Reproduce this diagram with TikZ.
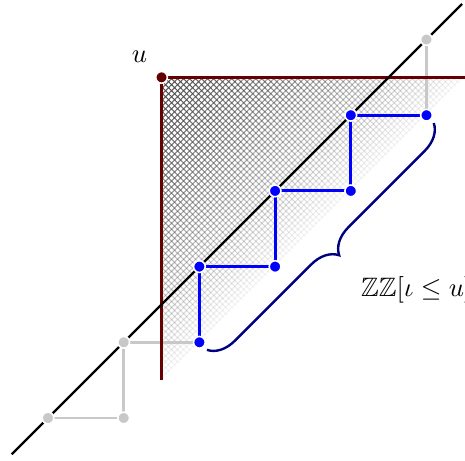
\documentclass[tikz,border=0pt]{standalone}
\usepackage{amssymb}
\usetikzlibrary{patterns.meta,fadings,decorations.pathreplacing}
\definecolor{ured}{RGB}{100,0,0}
\definecolor{bracecol}{RGB}{0,0,128}
\definecolor{lgray}{RGB}{200,200,200}
\definecolor{pblue}{RGB}{0,0,255}
\tikzfading[name=fadediag, top color=transparent!0, bottom color=transparent!95]
\begin{document}
\begin{tikzpicture}[
  dotnode/.style={circle, fill=#1, draw=white, line width=0.6pt, inner sep=0pt, minimum size=4.4pt},
  grayline/.style={lgray, line width=1pt},
  blueline/.style={pblue, line width=1.1pt},
  redline/.style={ured, line width=0.9pt},
  diagline/.style={black, line width=0.9pt},
  hatchfill/.style={pattern={Lines[angle=#1,distance=1.6pt,line width=0.4pt]}, pattern color=black!70,
     path fading=fadediag, fit fading=false,
     fading transform={shift={(2.5,3.5)}, rotate=45, xscale=1.9, yscale=1.6}},
  bracestyle/.style={bracecol, line width=0.9pt, decorate, decoration={brace, mirror, amplitude=10pt}}
]
\useasboundingbox (-0.634,-0.568) rectangle (5.509,5.522);
\clip (-0.634,-0.568) rectangle (5.509,5.522);
% coordinates
\coordinate (g00) at (0,0);
\coordinate (g10) at (1,0);
\coordinate (g11) at (1,1);
\coordinate (g55) at (5,5);
\coordinate (b21) at (2,1);
\coordinate (b22) at (2,2);
\coordinate (b32) at (3,2);
\coordinate (b33) at (3,3);
\coordinate (b43) at (4,3);
\coordinate (b44) at (4,4);
\coordinate (b54) at (5,4);
\coordinate (u) at (1.5,4.5);
\coordinate (rtop) at (5.52,4.5);
\coordinate (rbot) at (1.5,0.5);
\coordinate (hyp) at (5.5,4.5);
\coordinate (d1) at (-0.48,-0.48);
\coordinate (d2) at (5.47,5.47);
\coordinate (br1) at (2.1,0.9);
\coordinate (br2) at (5.1,3.9);
% hatched region
\fill[hatchfill=45] (u) -- (hyp) -- (rbot) -- cycle;
\fill[hatchfill=-45] (u) -- (hyp) -- (rbot) -- cycle;
% gray lines
\draw[grayline] (b21) -- (g11) -- (g10) -- (g00);
\draw[grayline] (b54) -- (g55);
% red lines
\draw[redline] (rtop) -- (u) -- (rbot);
% diagonal
\draw[diagline] (d1) -- (d2);
% blue staircase
\draw[blueline] (b21) -- (b22) -- (b32) -- (b33) -- (b43) -- (b44) -- (b54);
% brace
\draw[bracestyle] (br1) -- (br2);
% dots
\foreach \c in {g00,g10,g11,g55} \node[dotnode=lgray] (n\c) at (\c) {};
\foreach \c in {b21,b22,b32,b33,b43,b44,b54} \node[dotnode=pblue] (n\c) at (\c) {};
\node[dotnode=ured] (nu) at (u) {};
\node (ulabel) at (1.21,4.77) {$u$};
\node[anchor=base west, inner sep=0pt] (zlabel) at (4.13,1.6) {$\mathbb{ZZ}[\iota \leq u]$};
\end{tikzpicture}
\end{document}
